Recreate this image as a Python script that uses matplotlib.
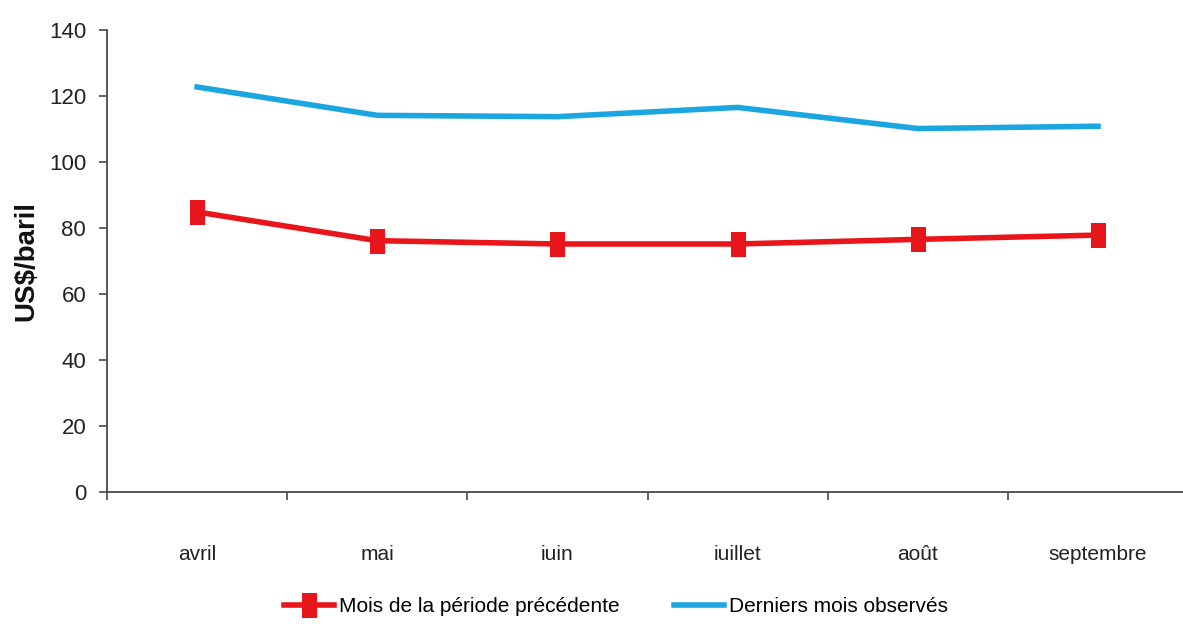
import numpy as np
import matplotlib
matplotlib.use("Agg")
import matplotlib.pyplot as plt
from matplotlib.ticker import FixedLocator, NullFormatter

months = ["avril", "mai", "iuin", "iuillet", "août", "septembre"]
prev_period = [84.9, 76.2, 75.2, 75.2, 76.6, 77.9]
last_observed = [122.8, 114.2, 113.8, 116.6, 110.2, 110.9]
y_ticks = [0, 20, 40, 60, 80, 100, 120, 140]

RED = "#E8161B"
BLUE = "#1BA6E0"
AXC = "#4a4a4a"

plt.rcParams["font.family"] = ["Liberation Sans", "DejaVu Sans"]

fig = plt.figure(figsize=(11.83, 6.30), dpi=100)
ax = fig.add_axes([0.0905, 0.219, 0.9138, 0.733])

x = np.arange(len(months))
# tall rectangle marker like the original
rect = [(-0.3, -0.5), (0.3, -0.5), (0.3, 0.5), (-0.3, 0.5), (-0.3, -0.5)]
ax.plot(x, prev_period, color=RED, lw=4, marker=rect, markersize=18,
        markeredgewidth=0, label="Mois de la période précédente", zorder=3)
ax.plot(x, last_observed, color=BLUE, lw=4, label="Derniers mois observés", zorder=3)

ax.set_xlim(-0.5, len(months) - 0.5)
ax.set_ylim(0, 140)
ax.set_yticks(y_ticks)
ax.set_xticks(x)
ax.set_xticklabels(months, fontsize=15)
ax.xaxis.set_minor_locator(FixedLocator(np.arange(-0.5, len(months), 1.0)))
ax.xaxis.set_minor_formatter(NullFormatter())
ax.tick_params(axis="x", which="major", length=0, pad=38, colors="#222")
ax.tick_params(axis="x", which="minor", length=6, width=1.2, color=AXC, direction="out")
ax.tick_params(axis="y", length=6, width=1.2, color=AXC, pad=9, labelsize=16, labelcolor="#222")

for s in ["top", "right"]:
    ax.spines[s].set_visible(False)
for s in ["left", "bottom"]:
    ax.spines[s].set_color(AXC)
    ax.spines[s].set_linewidth(1.3)

fig.text(0.022, 0.585, "US$/baril", rotation=90, fontsize=20, fontweight="bold",
         ha="center", va="center", color="#111")

fig.legend(loc="center", bbox_to_anchor=(616 / 1183, 0.037), ncol=2, frameon=False,
           fontsize=15, handlelength=2.4, handletextpad=0.25, columnspacing=2.6,
           numpoints=1)

fig.savefig("out.png", dpi=100)
